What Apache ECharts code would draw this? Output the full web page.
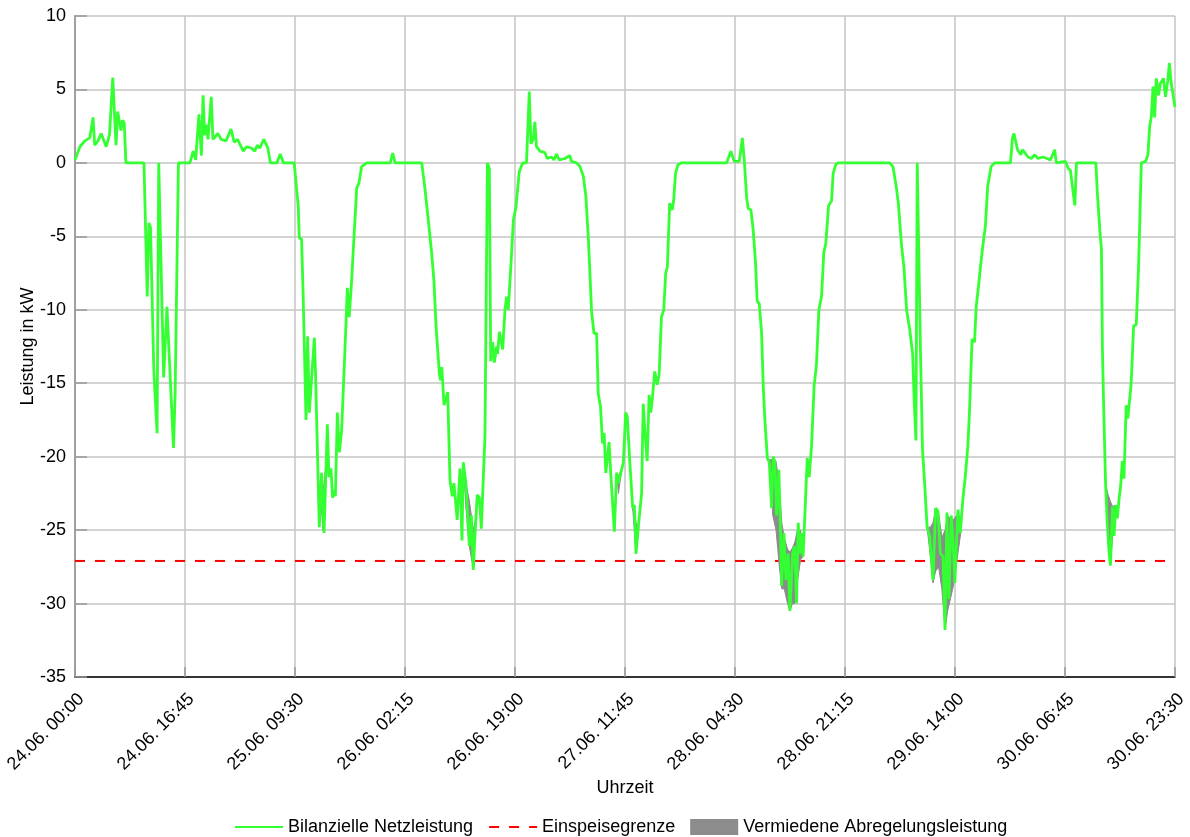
<!DOCTYPE html>
<html><head><meta charset="utf-8">
<script src="https://cdn.jsdelivr.net/npm/echarts@6/dist/echarts.min.js"></script>
<style>html,body{margin:0;padding:0;background:#fff}#c{width:1190px;height:837px}</style>
</head><body><div id="c"></div>
<script>
// x = time step index (15-minute steps from 24.06. 00:00)
const tickLabels = ['24.06. 00:00','24.06. 16:45','25.06. 09:30','26.06. 02:15','26.06. 19:00','27.06. 11:45','28.06. 04:30','28.06. 21:15','29.06. 14:00','30.06. 06:45','30.06. 23:30'];
const xMax = 670;
const tickStep = 67;
const einspeisegrenze = -27.1;

const netzleistung = [
[0,0.2],[3,1.1],[6,1.5],[9,1.7],[11,3.1],[12,1.2],[14,1.5],[16,2.0],[19,1.1],[21,1.9],[23,5.8],[25,1.2],[26,3.5],[28,2.2],[29,2.9],[30,2.7],[31,0],[42,0],[44,-9.1],[45,-4.1],[46,-4.4],[48,-14.1],[50,-18.4],[51,0],[54,-14.6],[56,-9.8],[60,-19.4],[61,-15.7],[62,-15.6],[63,0],[70,0],[72,0.8],[73.5,0.2],[75.5,3.3],[77,0.5],[78,4.6],[79,1.9],[80,2.6],[81,1.6],[83,4.5],[84,1.6],[87,2.0],[89,1.6],[92,1.5],[95,2.3],[97,1.4],[99,1.6],[102.5,0.8],[104.5,1.1],[107.5,1.0],[109.5,0.8],[111,1.2],[112.5,1.0],[115,1.6],[117.5,1.0],[119,0],[123,0],[125,0.6],[127,0],[133.5,0],
[136,-3.0],[136.6,-5.1],[138,-5.2],[139,-9.1],[140.7,-17.5],[141.7,-11.8],[142.7,-17.0],[145.8,-11.9],[146.5,-14.3],[148.8,-24.8],[150.2,-21.1],[151.7,-25.2],[153.7,-17.8],[154.7,-21.4],[155.9,-20.8],[156.9,-22.8],[158,-22.3],[158.6,-22.7],[159.8,-17.0],[161,-19.7],[162.4,-18.2],[164.5,-12.5],[165.9,-8.5],[167,-10.5],[168.4,-8.2],[169.9,-5.1],[171.6,-1.7],[172.9,-1.4],[174.6,-0.25],[177.7,0],[192,0],[193.5,0.66],[195,0],[211.2,0],
[213.2,-1.8],[215.2,-3.9],[217.2,-6.1],[218.6,-8.0],[219.9,-11.1],[221.9,-14.3],[222.6,-14.8],[223.4,-13.9],[224.8,-16.5],[225.8,-16.5],[227,-15.6],[228.4,-21.6],[229.8,-22.7],[230.8,-21.8],[232.8,-24.3],[234.5,-20.8],[235.7,-25.7],[236.5,-20.4],[238.1,-21.8],[240.2,-26.1],[241.4,-24.0],[242.6,-27.7],[243.8,-25.0],[245,-22.6],[246.3,-22.8],[247.5,-24.9],[249.7,-18.6],[251.2,0],[252.4,-0.4],[253.2,-13.5],[254.4,-12.2],[255.4,-13.6],[256.8,-12.5],[257.4,-13.0],[258.5,-11.5],[260.5,-12.7],[261.9,-10.0],[262.9,-9.1],[263.9,-10.0],[265.6,-6.8],[267,-3.9],[268.6,-3.0],[270.6,-0.6],[272.6,0],[275,0],[276.7,4.85],[277.7,1.3],[279.1,1.6],[280.1,2.8],[281.1,1.1],[283.2,0.8],[286.2,0.7],[287.6,0.3],[290.3,0.4],[291.7,0.2],[293.3,0.6],[294.9,0.2],[298.4,0.3],[301.4,0.5],[302.4,0.1],[305.5,0],
[307.6,-0.25],[309.6,-0.9],[311.2,-2.3],[312.7,-5.2],[314.7,-10.2],[316.1,-11.6],[317.7,-11.6],[318.7,-15.7],[320.1,-16.6],[321.3,-19.1],[322.3,-18.4],[323.3,-21.1],[325.3,-19.0],[326.3,-21.1],[328.5,-25.1],[329.9,-21.1],[330.9,-21.8],[332.9,-20.9],[334,-20.4],[335.4,-17.0],[336.4,-17.3],[338,-20.5],[339.7,-23.5],[340.7,-23.3],[341.7,-26.6],[343.1,-24.8],[344.1,-24.9],[345.1,-22.5],[346.1,-16.4],[347.1,-18.2],[348.5,-20.3],[349.7,-15.8],[350.7,-17.0],[351.7,-16.0],[353.1,-14.2],[354.6,-15.1],[355.8,-14.4],[357.2,-10.5],[358.6,-10.0],[359.8,-7.5],[360.8,-7.1],[362.2,-2.75],[363.8,-3.2],[364.6,-2.6],[365.8,-0.7],[367.2,-0.14],[369.2,0],[396.9,0],[399.5,0.8],[401.5,0.1],[404.6,0.1],[406.5,1.7],[407.7,0.1],
[409.1,-2.4],[410.1,-3.1],[411.7,-3.2],[413.1,-4.6],[414.5,-6.8],[415.5,-9.4],[416.8,-9.6],[418.2,-11.6],[419.2,-15.2],[420.2,-17.5],[421.7,-20.1],[422.9,-20.4],[424.3,-23.5],[425.3,-20.0],[426.3,-20.4],[427.3,-24.0],[428.7,-20.9],[429.8,-25.4],[430.4,-28.8],[431.8,-25.2],[433,-28.4],[434.4,-26.6],[435.4,-30.5],[437.1,-26.6],[438.3,-26.1],[439.5,-30.0],[440.5,-24.5],[441.5,-26.6],[442.3,-25.2],[443.5,-26.8],[446,-20.1],[447.2,-21.4],[448.6,-19.3],[450.2,-15.2],[451.6,-13.75],[453.1,-10.0],[454.7,-9.1],[456.1,-6.1],[457.3,-5.5],[459,-2.9],[460.8,-2.6],[461.8,-0.7],[463.4,-0.1],[464.8,0],[496.2,0],
[498.2,-0.25],[500.2,-1.6],[501.5,-2.75],[503.5,-5.7],[504.9,-7.1],[506.5,-10.0],[508.5,-11.4],[510.2,-13.0],[511.2,-16.4],[512.2,-18.9],[513,0],[514.2,0],[515,-13],[516.2,-19.5],[517.6,-22.0],[519,-24.8],[520.6,-25.4],[522.6,-28.4],[524.2,-23.5],[525.6,-23.7],[527.1,-26.6],[528.7,-26.8],[529.9,-31.8],[531.1,-23.8],[532.3,-29.7],[533.7,-24.0],[534.7,-25.4],[535.9,-28.6],[537.8,-23.6],[539.2,-25.2],[540.8,-22.9],[542.4,-21.2],[543.8,-19.3],[544.8,-17.0],[546.4,-12.0],[547.9,-12.2],[548.9,-9.8],[550.3,-8.4],[551.5,-7.1],[552.9,-5.7],[554.5,-4.3],[555.9,-1.6],[558,-0.25],[560,0],[569.8,0],
[571,1.7],[571.9,2.0],[573.1,1.4],[574.1,0.9],[575.1,1.0],[576.1,0.55],[577.1,0.9],[578.5,0.7],[580.5,0.4],[582.5,0.3],[584.6,0.55],[586.6,0.3],[589.6,0.4],[592.1,0.3],[594.1,0.2],[596.7,0.9],[597.7,0],[603.4,0.1],[604.9,-0.36],[606.3,-0.5],[607.5,-1.6],[609,-2.9],[610,0],[621.8,0],[622.6,-1.84],[624.2,-4.6],[625.2,-5.9],[625.8,-12.7],[626.6,-16.8],[627.7,-21.8],[628.7,-24.5],[629.9,-26.6],[630.7,-27.4],[631.9,-23.4],[632.9,-25.4],[633.9,-23.3],[634.9,-24.2],[635.9,-22.9],[636.9,-22.0],[637.9,-20.3],[638.9,-21.5],[640.3,-16.5],[641.3,-17.4],[643.3,-15.0],[644.8,-11.1],[646.4,-11.0],[647.8,-7.1],[649.5,0],[652.1,0.1],[653.5,0.55],[654.6,2.5],[655.6,3.15],[656.6,5.2],[657.6,3.1],[658.6,5.75],[660,4.6],[661,5.4],[662.2,5.5],[663,5.75],[664.2,4.5],[665.6,5.6],[666.6,6.8],[667.7,5.4],[668.7,5.4],[670,3.8]
];

// avoided curtailment band: upper and lower edge (null = gap between troughs)
const abregelungOben = [
[149.5,-22.5],[151,-22.5],[152.5,-21],[153,null],
[236.5,-20.4],[238.1,-21.8],[240.2,-23],[242.6,-25],[244.5,-24],[245,null],
[330,-21.1],[331,-21.3],[333,-20.9],[334,null],
[339.7,-23.5],[341.7,-24.5],[343.5,-24.8],[344,null],
[423,-20.2],[425,-20.2],[427,-20.3],[429,-22],[430.5,-24.5],[432,-25.5],[434,-26.3],[435.5,-26.5],[437,-26.2],[438.5,-25.8],[440,-25],[442,-25],[443.5,-26.8],[444,null],
[519,-24.8],[521,-24.8],[522.6,-24.5],[524.2,-23.5],[526,-23.8],[528,-25.5],[530,-25],[531.5,-24],[533,-24.2],[535,-24.3],[537,-24],[539.5,-24.5],[540,null],
[627.7,-21.8],[629,-22.5],[630.5,-23],[632,-23.4],[633.5,-23.3]
];
const abregelungUnten = [
[149.5,-22.5],[151,-25],[152.5,-21],[153,null],
[236.5,-20.4],[238.1,-23.5],[240.2,-26.1],[242.6,-27.7],[244.5,-24],[245,null],
[330,-21.1],[331,-22.5],[333,-20.9],[334,null],
[339.7,-23.5],[341.7,-26.6],[343.5,-24.8],[344,null],
[423,-20.4],[425,-24],[427,-25],[429,-27.5],[430.5,-29],[432,-29],[434,-30],[435.5,-30.5],[437,-30],[438.5,-30],[440,-28.5],[442,-27],[443.5,-26.8],[444,null],
[519,-24.8],[521,-26.8],[522.6,-28.6],[524.2,-27.8],[526,-27.5],[528,-29],[530,-31.8],[531.5,-30.5],[533,-29.8],[535,-28.8],[537,-27.2],[539.5,-25.2],[540,null],
[627.7,-21.8],[629,-25],[630.5,-27.4],[632,-25.5],[633.5,-23.3]
];

// split the band edges into separate polygons at the null gaps
const bandSegments = [];
(function () {
  let cur = null;
  abregelungOben.forEach((p, i) => {
    const q = abregelungUnten[i];
    if (p[1] == null || q[1] == null) { cur = null; return; }
    if (!cur) { cur = {top: [], bottom: []}; bandSegments.push(cur); }
    cur.top.push(p); cur.bottom.push(q);
  });
})();

const FONT = "'Liberation Sans', Arial, sans-serif";
const FS = 18;
const chart = echarts.init(document.getElementById('c'), null, {renderer: 'canvas'});
chart.setOption({
  animation: false,
  backgroundColor: '#fff',
  textStyle: {fontFamily: FONT, color: '#000'},
  grid: {left: 75, right: 15, top: 16, bottom: 160, containLabel: false, outerBoundsMode: 'none'},
  legend: {
    left: 229, top: 813,
    itemWidth: 48, itemHeight: 16, itemGap: 15,
    textStyle: {fontFamily: FONT, fontSize: FS, color: '#000'},
    data: [
      {name: 'Bilanzielle Netzleistung', itemStyle: {opacity: 0}},
      {name: 'Einspeisegrenze', itemStyle: {opacity: 0}},
      {name: 'Vermiedene Abregelungsleistung', icon: 'rect'}
    ]
  },
  xAxis: {
    type: 'value', min: 0, max: xMax, interval: tickStep,
    name: 'Uhrzeit', nameLocation: 'middle', nameGap: 102, nameMoveOverlap: false,
    nameTextStyle: {fontFamily: FONT, fontSize: FS, color: '#000'},
    axisLine: {onZero: false, lineStyle: {color: '#000', width: 1.5}},
    axisTick: {inside: true, length: 10, lineStyle: {color: '#999', width: 1.5}},
    splitLine: {show: true, lineStyle: {color: '#c4c4c4', width: 1.5}},
    axisLabel: {
      rotate: 45, margin: 13, fontSize: FS, color: '#000', fontFamily: FONT,
      verticalAlign: 'top',
      showMinLabel: true, showMaxLabel: true,
      formatter: v => tickLabels[Math.round(v / tickStep)] || ''
    }
  },
  yAxis: {
    type: 'value', min: -35, max: 10, interval: 5,
    name: 'Leistung in kW', nameLocation: 'middle', nameGap: 38, nameMoveOverlap: false,
    nameTextStyle: {fontFamily: FONT, fontSize: FS, color: '#000'},
    axisLine: {show: true, lineStyle: {color: '#a0a0a0', width: 2}},
    axisTick: {show: true, inside: true, length: 12, lineStyle: {color: '#999', width: 1.5}},
    splitLine: {show: true, lineStyle: {color: '#c4c4c4', width: 1.5}},
    axisLabel: {fontSize: FS, color: '#000', margin: 9, fontFamily: FONT}
  },
  series: [
    {
      name: 'Einspeisegrenze', type: 'line', symbol: 'none',
      data: [[0, einspeisegrenze], [xMax, einspeisegrenze]],
      lineStyle: {color: '#ff0000', width: 2, type: [10, 10]},
      itemStyle: {color: '#ff0000'}, z: 2
    },
    {
      name: 'Vermiedene Abregelungsleistung', type: 'custom',
      itemStyle: {color: '#8c8c8c'},
      data: bandSegments.map((s, i) => [s.top[0][0], s.top[0][1], i]),
      renderItem: (params, api) => {
        const seg = bandSegments[params.dataIndex];
        const pts = seg.top.map(p => api.coord(p))
          .concat(seg.bottom.slice().reverse().map(p => api.coord(p)));
        return {type: 'polygon', shape: {points: pts},
          style: {fill: '#8c8c8c', stroke: '#8c8c8c', lineWidth: 1}};
      },
      z: 3
    },
    {
      name: 'Bilanzielle Netzleistung', type: 'line', symbol: 'none',
      data: netzleistung,
      lineStyle: {color: '#33ff33', width: 2.8},
      itemStyle: {color: '#33ff33'}, z: 4
    }
  ]
});
</script>
</body></html>
